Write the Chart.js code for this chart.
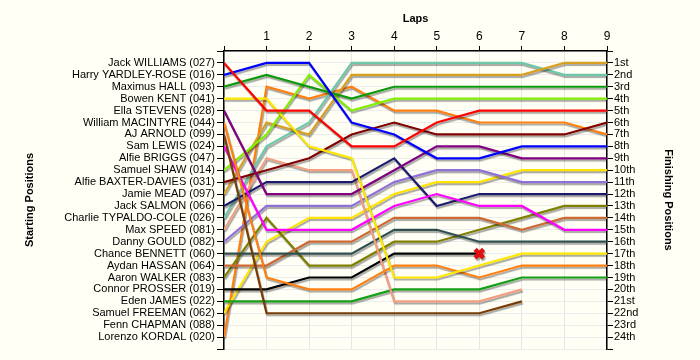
<!DOCTYPE html>
<html>
<head>
<meta charset="utf-8">
<title>Lap chart</title>
<script src="https://cdn.jsdelivr.net/npm/chart.js@4.4.1/dist/chart.umd.min.js"></script>
<style>
  html, body { margin: 0; padding: 0; background: #fffff6; }
  #wrap { width: 700px; height: 360px; }
</style>
</head>
<body>
<div id="wrap"><canvas id="lapChart" width="700" height="360"></canvas></div>
<script>
// laps along the top axis
const laps = [0, 1, 2, 3, 4, 5, 6, 7, 8, 9];

// drivers in starting order (left axis)
const startNames = [
  'Jack WILLIAMS (027)', 'Harry YARDLEY-ROSE (016)', 'Maximus HALL (093)', 'Bowen KENT (041)',
  'Ella STEVENS (028)', 'William MACINTYRE (044)', 'AJ ARNOLD (099)', 'Sam LEWIS (024)',
  'Alfie BRIGGS (047)', 'Samuel SHAW (014)', 'Alfie BAXTER-DAVIES (031)', 'Jamie MEAD (097)',
  'Jack SALMON (066)', 'Charlie TYPALDO-COLE (026)', 'Max SPEED (081)', 'Danny GOULD (082)',
  'Chance BENNETT (060)', 'Aydan HASSAN (064)', 'Aaron WALKER (083)', 'Connor PROSSER (019)',
  'Eden JAMES (022)', 'Samuel FREEMAN (062)', 'Fenn CHAPMAN (088)', 'Lorenzo KORDAL (020)'
];

// right axis labels
const finishLabels = [
  '1st', '2nd', '3rd', '4th', '5th', '6th', '7th', '8th', '9th', '10th', '11th', '12th',
  '13th', '14th', '15th', '16th', '17th', '18th', '19th', '20th', '21st', '22nd', '23rd', '24th'
];

// position of each driver at the end of each lap (same order as startNames)
const lapPositions = [
  [1, 5, 5, 8, 8, 6, 5, 5, 5, 5],
  [2, 1, 1, 6, 7, 9, 9, 8, 8, 8],
  [3, 2, 3, 4, 3, 3, 3, 3, 3, 3],
  [4, 4, 8, 9, 19, 19, 18, 17, 17, 17],
  [5, 12, 12, 12, 10, 8, 8, 9, 9, 9],
  [6, 19, 20, 20, 18, 18, 19, 18, 18, 18],
  [7, 22, 22, 22, 22, 22, 22, 21],
  [8, 15, 15, 15, 13, 12, 13, 13, 15, 15],
  [9],
  [10, 7, 2, 5, 4, 4, 4, 4, 4, 4],
  [11, 10, 9, 7, 6, 7, 7, 7, 7, 6],
  [12, 6, 7, 2, 2, 2, 2, 2, 1, 1],
  [13, 11, 11, 11, 9, 13, 12, 12, 12, 12],
  [14, 8, 6, 1, 1, 1, 1, 1, 2, 2],
  [15, 9, 10, 10, 21, 21, 21, 20],
  [16, 13, 13, 13, 11, 10, 10, 11, 11, 11],
  [17, 17, 17, 17, 15, 15, 16, 16, 16, 16],
  [18, 18, 16, 16, 14, 14, 14, 15, 14, 14],
  [19, 14, 18, 18, 16, 16, 15, 14, 13, 13],
  [20, 20, 19, 19, 17, 17, 17],
  [21, 21, 21, 21, 20, 20, 20, 19, 19, 19],
  [22, 16, 14, 14, 12, 11, 11, 10, 10, 10],
  [23],
  [24, 3, 4, 3, 5, 5, 6, 6, 6, 7]
];

// drivers who retired (marked with an X at their last lap)
const retired = ['Connor PROSSER (019)'];

const lineColors = [
  '#ff0000', '#0000ff', '#0a9a0a', '#ffe800', '#800080', '#ff8010', '#7a3c06', '#ff00ff',
  '#ff9900', '#80f000', '#800000', '#d8a020', '#1c1c6e', '#6cc8a8', '#f4a080', '#9070d8',
  '#2f4f4f', '#cc6a32', '#808000', '#000000', '#14a014', '#ffe400', '#ff8010', '#ff8010'
];

const font = 'Liberation Sans, Arial, sans-serif';

// grey drop shadow under the lines
const shadowPlugin = {
  id: 'lineShadow',
  beforeDatasetsDraw(chart) {
    const c = chart.ctx;
    c.save();
    c.shadowColor = 'rgba(0,0,0,0.35)';
    c.shadowOffsetX = 1;
    c.shadowOffsetY = 2;
    c.shadowBlur = 1;
  },
  afterDatasetsDraw(chart) {
    chart.ctx.restore();
  }
};

const datasets = startNames.map((name, i) => {
  const pos = lapPositions[i];
  const isOut = retired.includes(name);
  return {
    label: name,
    data: pos.map((p, lap) => ({ x: laps[lap], y: p })),
    borderColor: lineColors[i],
    borderWidth: 2.2,
    tension: 0,
    fill: false,
    pointRadius: pos.map((p, lap) => (isOut && lap === pos.length - 1) ? 6 : 0),
    pointStyle: 'crossRot',
    pointBorderColor: '#e01010',
    pointBorderWidth: 4.5,
    pointBackgroundColor: '#e01010'
  };
});

new Chart(document.getElementById('lapChart'), {
  type: 'line',
  data: { datasets },
  plugins: [shadowPlugin],
  options: {
    responsive: false,
    animation: false,
    layout: { padding: { left: 0, right: 0, top: 0, bottom: 11 } },
    plugins: { legend: { display: false }, tooltip: { enabled: false } },
    scales: {
      x: {
        type: 'linear',
        position: 'top',
        min: 0,
        max: 9,
        afterFit: (s) => { s.height = 51; },
        ticks: {
          stepSize: 1,
          padding: 2,
          color: '#000',
          font: { family: font, size: 12 },
          callback: (v) => v === 0 ? '' : v
        },
        grid: { color: '#e6e6e6', tickColor: '#000', tickLength: 5 },
        border: { color: '#000', width: 1.5 },
        title: {
          display: true,
          text: 'Laps',
          color: '#000',
          font: { family: font, size: 11, weight: 'bold' },
          padding: { top: 12, bottom: 0 }
        }
      },
      y: {
        type: 'linear',
        position: 'left',
        reverse: true,
        min: 0,
        max: 25,
        afterFit: (s) => { s.width = 224; },
        ticks: {
          stepSize: 1,
          autoSkip: false,
          padding: 2,
          color: '#000',
          font: { family: font, size: 11 },
          callback: (v) => (v >= 1 && v <= startNames.length) ? startNames[v - 1] : ''
        },
        grid: { color: '#ececec', tickColor: '#000', tickLength: 7 },
        border: { color: '#000', width: 1.5 },
        title: {
          display: true,
          text: 'Starting Positions',
          color: '#000',
          font: { family: font, size: 11, weight: 'bold' },
          padding: { top: 23, bottom: 0 }
        }
      },
      yRight: {
        type: 'linear',
        position: 'right',
        reverse: true,
        min: 0,
        max: 25,
        afterFit: (s) => { s.width = 93; },
        ticks: {
          stepSize: 1,
          autoSkip: false,
          padding: 1,
          color: '#000',
          font: { family: font, size: 11 },
          callback: (v) => (v >= 1 && v <= finishLabels.length) ? finishLabels[v - 1] : ''
        },
        grid: { drawOnChartArea: false, tickColor: '#000', tickLength: 6 },
        border: { color: '#000', width: 1.5 },
        title: {
          display: true,
          text: 'Finishing Positions',
          color: '#000',
          font: { family: font, size: 11, weight: 'bold' },
          padding: { top: 25, bottom: 0 }
        }
      }
    }
  }
});
</script>
</body>
</html>
